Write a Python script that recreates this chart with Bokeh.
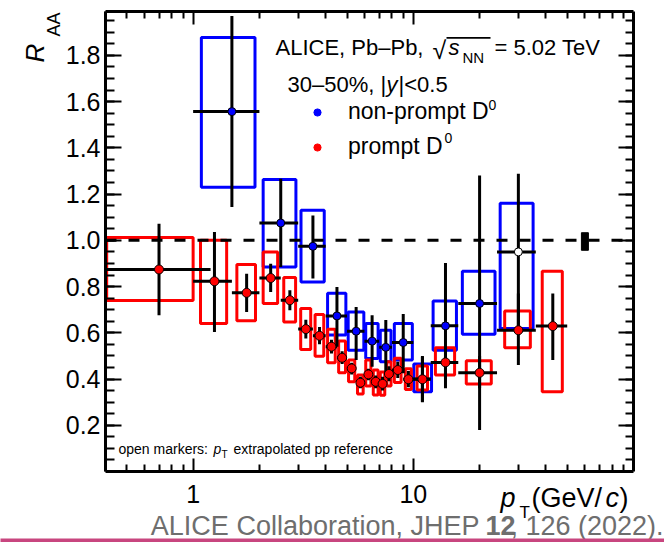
import math
from bokeh.plotting import figure
from bokeh.core.properties import value
from bokeh.models import (ColumnDataSource, FixedTicker, LinearAxis, LogAxis, Span,
                          BoxAnnotation, Legend, LegendItem, PrintfTickFormatter, CustomJSTickFormatter)
from bokeh.embed import file_html
from bokeh.resources import INLINE

# ---------------- data ----------------
# prompt D0
p_pt      = [0.7, 1.25, 1.75, 2.25, 2.75, 3.25, 3.75, 4.25, 4.75, 5.25, 5.75, 6.25, 6.75, 7.25, 7.75, 8.5, 9.5, 11.0, 14.0, 20.0, 30.0, 43.0]
p_pt_lo   = [0.2, 1.0, 1.5, 2.0, 2.5, 3.0, 3.5, 4.0, 4.5, 5.0, 5.5, 6.0, 6.5, 7.0, 7.5, 8.0, 9.0, 10.0, 12.0, 16.0, 24.0, 36.0]
p_pt_hi   = [1.2, 1.5, 2.0, 2.5, 3.0, 3.5, 4.0, 4.5, 5.0, 5.5, 6.0, 6.5, 7.0, 7.5, 8.0, 9.0, 10.0, 12.0, 16.0, 24.0, 36.0, 50.0]
p_raa     = [0.874, 0.823, 0.773, 0.837, 0.741, 0.616, 0.587, 0.540, 0.492, 0.446, 0.384, 0.420, 0.388, 0.379, 0.422, 0.439, 0.399, 0.399, 0.472, 0.427, 0.611, 0.629]
p_stat_lo = [0.676, 0.604, 0.690, 0.777, 0.698, 0.575, 0.550, 0.510, 0.465, 0.420, 0.360, 0.395, 0.360, 0.350, 0.390, 0.405, 0.365, 0.300, 0.400, 0.360, 0.461, 0.482]
p_stat_hi = [1.072, 1.036, 0.856, 0.899, 0.784, 0.657, 0.625, 0.570, 0.520, 0.470, 0.410, 0.445, 0.415, 0.410, 0.455, 0.475, 0.435, 0.500, 0.540, 0.500, 0.770, 0.770]
p_sys_lo  = [0.740, 0.640, 0.652, 0.727, 0.647, 0.528, 0.499, 0.470, 0.427, 0.388, 0.335, 0.370, 0.331, 0.330, 0.370, 0.385, 0.355, 0.353, 0.417, 0.379, 0.535, 0.345]
p_sys_hi  = [1.012, 1.000, 0.895, 0.950, 0.839, 0.705, 0.679, 0.615, 0.565, 0.482, 0.417, 0.482, 0.439, 0.430, 0.475, 0.490, 0.445, 0.456, 0.535, 0.479, 0.694, 0.866]
p_box_lo  = [0.405, 1.08, 1.58, 2.08, 2.58, 3.08, 3.58, 4.08, 4.58, 5.08, 5.58, 6.08, 6.58, 7.08, 7.58, 8.2, 9.2, 10.4, 12.6, 17.4, 26.0, 38.5]
p_box_hi  = [1.0, 1.42, 1.92, 2.42, 2.92, 3.42, 3.92, 4.42, 4.92, 5.42, 5.92, 6.42, 6.92, 7.42, 7.92, 8.8, 9.8, 11.6, 15.4, 22.6, 34.0, 47.5]

# non-prompt D0
np_pt      = [1.5, 2.5, 3.5, 4.5, 5.5, 6.5, 7.5, 9.0, 11.0, 14.0, 20.0, 30.0]
np_pt_lo   = [1.0, 2.0, 3.0, 4.0, 5.0, 6.0, 7.0, 8.0, 10.0, 12.0, 16.0, 24.0]
np_pt_hi   = [2.0, 3.0, 4.0, 5.0, 6.0, 7.0, 8.0, 10.0, 12.0, 16.0, 24.0, 36.0]
np_raa     = [1.557, 1.075, 0.974, 0.673, 0.607, 0.564, 0.537, 0.558, 0.400, 0.630, 0.727, 0.950]
np_stat_lo = [1.144, 0.885, 0.835, 0.540, 0.482, 0.453, 0.425, 0.425, 0.302, 0.360, 0.180, 0.610]
np_stat_hi = [1.970, 1.266, 1.108, 0.798, 0.712, 0.676, 0.655, 0.681, 0.496, 0.902, 1.280, 1.288]
np_sys_lo  = [1.230, 0.885, 0.820, 0.590, 0.525, 0.489, 0.475, 0.482, 0.345, 0.525, 0.594, 0.619]
np_sys_hi  = [1.877, 1.263, 1.130, 0.771, 0.690, 0.640, 0.611, 0.640, 0.465, 0.738, 0.866, 1.161]
np_box_lo  = [1.09, 2.08, 3.09, 4.08, 5.06, 6.08, 7.08, 8.2, 10.05, 12.3, 16.7, 24.8]
np_box_hi  = [1.91, 2.93, 3.94, 4.94, 5.96, 6.92, 7.92, 9.9, 12.1, 15.7, 23.5, 35.0]
np_open    = [False] * 11 + [True]   # open marker: pT-extrapolated pp reference

# normalisation uncertainty box at unity
norm_x = [58.0, 62.4]
norm_y = [0.957, 1.033]

y_ticks = [0.2, 0.4, 0.6, 0.8, 1.0, 1.2, 1.4, 1.6, 1.8]
x_ticks = [1, 10]
x_tick_labels = ["1", "10"]

# ---------------- layout constants ----------------
W, H = 664, 542
FL, FR, FT, FB = 105, 633, 11, 471
XMIN, XMAX = 0.4, 100.0
YMIN, YMAX = 0.0, 1.99
FONT = "Liberation Sans"
RED, BLUE = "#ff0000", "#0000ff"
GREY = "#6e6e6e"
BASE_SHIFT = 0.36   # empirical offset of the text anchor above the glyph baseline (x font size)


def dx(px):
    return 10 ** (math.log10(XMIN) + (px - FL) / (FR - FL) * (math.log10(XMAX) - math.log10(XMIN)))


def dy(py):
    return YMIN + (FB - py) / (FB - FT) * (YMAX - YMIN)


p = figure(width=W, height=H, x_axis_type="log", x_range=(XMIN, XMAX), y_range=(YMIN, YMAX),
           output_backend="svg", toolbar_location=None,
           min_border_left=FL, min_border_right=W - FR, min_border_top=FT, min_border_bottom=H - FB)
p.xgrid.visible = False
p.ygrid.visible = False
p.outline_line_color = None
p.background_fill_color = "white"
p.border_fill_color = "white"

x_minor = [v * 0.1 for v in range(4, 10)] + list(range(2, 10)) + list(range(20, 100, 10))
y_minor = [round(0.05 * i, 2) for i in range(1, 40)]


def style_axis(ax, major, minor, standoff):
    ax.axis_line_width = 3
    ax.axis_line_color = "black"
    ax.major_tick_in = major
    ax.major_tick_out = 0
    ax.minor_tick_in = minor
    ax.minor_tick_out = 0
    ax.major_tick_line_width = 2
    ax.minor_tick_line_width = 2
    ax.major_tick_line_color = "black"
    ax.minor_tick_line_color = "black"
    ax.major_label_text_font = FONT
    ax.major_label_text_font_size = "25px"
    ax.major_label_text_color = "black"
    ax.major_label_standoff = standoff


xb = p.xaxis[0]
xb.ticker = FixedTicker(ticks=x_ticks, minor_ticks=x_minor)
xb.major_label_overrides = dict(zip(x_ticks, x_tick_labels))
style_axis(xb, 13, 7, 13)

yl = p.yaxis[0]
yl.ticker = FixedTicker(ticks=y_ticks, minor_ticks=y_minor)
yl.formatter = PrintfTickFormatter(format="%.1f")
style_axis(yl, 16, 9, 5)

blank = CustomJSTickFormatter(code="return '';")
xt = LogAxis(ticker=FixedTicker(ticks=x_ticks, minor_ticks=x_minor), formatter=blank)
style_axis(xt, 13, 7, 0)
p.add_layout(xt, "above")

yr = LinearAxis(ticker=FixedTicker(ticks=y_ticks, minor_ticks=y_minor), formatter=blank)
style_axis(yr, 15, 8, 0)
p.add_layout(yr, "right")

# unity line
p.add_layout(Span(location=1.0, dimension="width", line_color="black", line_width=3, line_dash="11 12"))

src_p = ColumnDataSource(dict(x=p_pt, xlo=p_pt_lo, xhi=p_pt_hi, y=p_raa, slo=p_stat_lo, shi=p_stat_hi,
                              blo=p_sys_lo, bhi=p_sys_hi, bxl=p_box_lo, bxh=p_box_hi))
src_np = ColumnDataSource(dict(x=np_pt, xlo=np_pt_lo, xhi=np_pt_hi, y=np_raa, slo=np_stat_lo, shi=np_stat_hi,
                               blo=np_sys_lo, bhi=np_sys_hi, bxl=np_box_lo, bxh=np_box_hi,
                               fc=["white" if o else BLUE for o in np_open]))

# systematic boxes
p.quad(left="bxl", right="bxh", bottom="blo", top="bhi", source=src_np,
       fill_color=None, line_color=BLUE, line_width=3)
p.quad(left="bxl", right="bxh", bottom="blo", top="bhi", source=src_p,
       fill_color=None, line_color=RED, line_width=3)

# statistical error bars
for s in (src_np, src_p):
    p.segment(x0="x", y0="slo", x1="x", y1="shi", source=s, line_color="black", line_width=3)
    p.segment(x0="xlo", y0="y", x1="xhi", y1="y", source=s, line_color="black", line_width=3)

# normalisation box
p.quad(left=[norm_x[0]], right=[norm_x[1]], bottom=[norm_y[0]], top=[norm_y[1]],
       fill_color="black", line_color="black", line_width=1)

# markers
p.scatter(x="x", y="y", source=src_np, marker="circle", size=8, fill_color="fc", line_color="black", line_width=1)
p.scatter(x="x", y="y", source=src_p, marker="circle", size=9, fill_color=RED, line_color="black", line_width=1)

# legend
r_leg_np = p.scatter(x=[1.0], y=[-5.0], marker="circle", size=7, fill_color=BLUE, line_color=BLUE)
r_leg_p = p.scatter(x=[1.0], y=[-5.0], marker="circle", size=7, fill_color=RED, line_color=RED)
leg = Legend(items=[LegendItem(label="non-prompt D", renderers=[r_leg_np]),
                    LegendItem(label="prompt D", renderers=[r_leg_p])],
             location=(203, 311), glyph_width=18, glyph_height=18, label_standoff=22,
             spacing=8, padding=0, margin=0, border_line_color=None, background_fill_alpha=0,
             label_text_font=FONT, label_text_font_size="23px", label_text_color="black")
p.add_layout(leg)

# ---------------- text pieces (pixel placement, py = baseline) ----------------
HALF_PI = math.pi / 2
pieces = [
    # px, py, text, size, style, colour, align, angle
    (275, 55, "ALICE, Pb\u2013Pb,", 22, "normal", "black", "left", 0.0),
    (432, 58, "\u221a", 25, "normal", "black", "left", 0.0),
    (448, 55, "s", 22, "italic", "black", "left", 0.0),
    (462, 62, "NN", 15, "normal", "black", "left", 0.0),
    (494, 55, "= 5.02 TeV", 22, "normal", "black", "left", 0.0),
    (287, 92, "30\u201350%,", 22, "normal", "black", "left", 0.0),
    (380, 92, "|", 22, "normal", "black", "left", 0.0),
    (386, 92, "y", 22, "italic", "black", "left", 0.0),
    (398, 92, "|<0.5", 22, "normal", "black", "left", 0.0),
    (488, 110, "0", 14, "normal", "black", "left", 0.0),
    (444, 143, "0", 14, "normal", "black", "left", 0.0),
    (118, 454, "open markers:", 14, "normal", "black", "left", 0.0),
    (213, 454, "p", 14, "italic", "black", "left", 0.0),
    (221, 458, "T", 10, "normal", "black", "left", 0.0),
    (233, 454, "extrapolated pp reference", 14, "normal", "black", "left", 0.0),
    (500, 507, "p", 27, "italic", "black", "left", 0.0),
    (519, 518, "T", 17, "normal", "black", "left", 0.0),
    (531, 507, "(GeV/", 27, "normal", "black", "left", 0.0),
    (605, 507, "c", 27, "italic", "black", "left", 0.0),
    (619, 507, ")", 27, "normal", "black", "left", 0.0),
    (44, 62, "R", 26, "italic", "black", "left", HALF_PI),
    (60, 36, "AA", 18, "normal", "black", "left", HALF_PI),
    (479, 535, "ALICE Collaboration, JHEP", 27, "normal", GREY, "right", 0.0),
    (485, 535, "12", 27, "bold", GREY, "left", 0.0),
    (663, 535, ", 126 (2022).", 27, "normal", GREY, "right", 0.0),
]


def anchor(a):
    px, py, size, ang = a[0], a[1], a[3], a[7]
    if ang:
        return dx(px - BASE_SHIFT * size), dy(py)
    return dx(px), dy(py - BASE_SHIFT * size)


anchors = [anchor(a) for a in pieces]
tsrc = ColumnDataSource(dict(
    x=[a[0] for a in anchors], y=[a[1] for a in anchors], text=[a[2] for a in pieces],
    size=[f"{a[3]}px" for a in pieces], style=[a[4] for a in pieces], color=[a[5] for a in pieces],
    align=[a[6] for a in pieces], angle=[a[7] for a in pieces]))
p.text(x="x", y="y", text="text", source=tsrc, text_font=value(FONT), text_font_size="size",
       text_font_style="style", text_color="color", text_align="align", text_baseline="alphabetic",
       angle="angle", level="overlay")

# sqrt overline and bottom stripe (decoration)
p.add_layout(BoxAnnotation(left=dx(446), right=dx(490), top=dy(36.5), bottom=dy(38.2),
                           fill_color="black", fill_alpha=1, line_color=None))
p.quad(left=[dx(0)], right=[dx(W)], bottom=[dy(542)], top=[dy(538)],
       fill_color="#c8467f", line_color=None, level="overlay")

open("out.html", "w").write(file_html(p, INLINE))
